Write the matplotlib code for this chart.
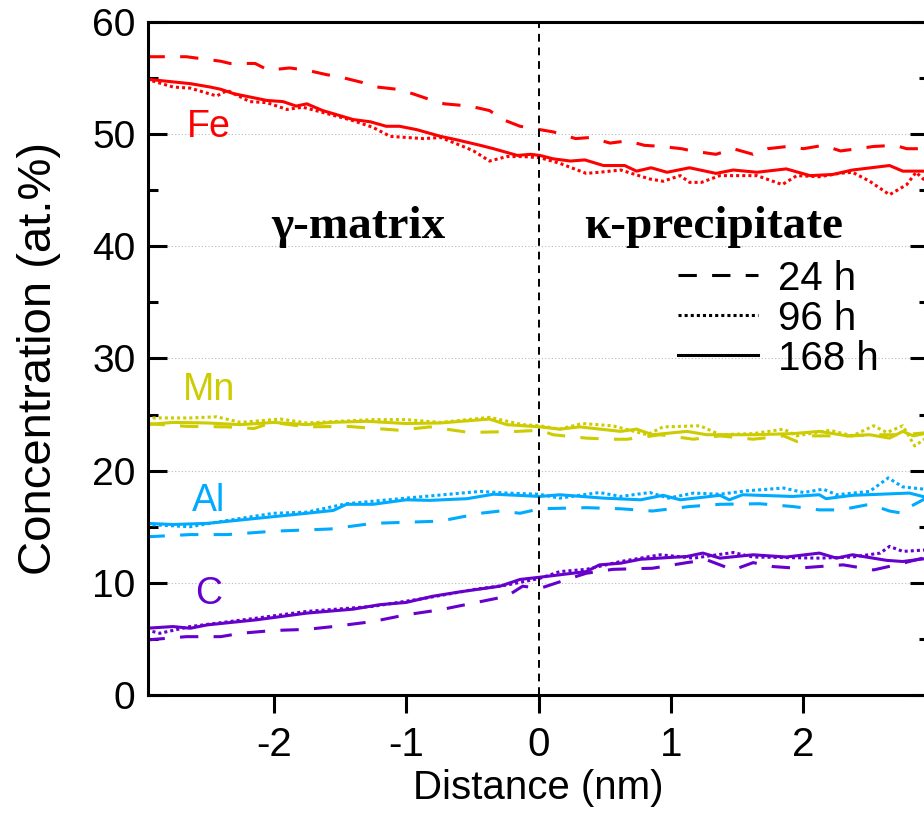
import numpy as np
import matplotlib
matplotlib.use('Agg')
import matplotlib.pyplot as plt
from matplotlib.ticker import MultipleLocator

plt.rcParams['font.family'] = ['Liberation Sans', 'DejaVu Sans']
plt.rcParams['axes.unicode_minus'] = False

# --- Fe ---
fe_24_x = [-2.96, -2.66, -2.40, -2.33, -2.14, -2.04, -1.88, -1.75, -1.60, -1.50, -1.33, -1.22, -1.07, -0.95,
           -0.80, -0.71, -0.52, -0.37, -0.27, -0.14, 0.01, 0.11, 0.28, 0.39, 0.54, 0.67, 0.80, 0.93, 1.08,
           1.16, 1.34, 1.47, 1.62, 1.73, 1.88, 2.00, 2.15, 2.28, 2.41, 2.53, 2.69, 2.78, 2.95]
fe_24_y = [56.9, 56.9, 56.5, 56.3, 56.3, 55.7, 55.9, 55.7, 55.3, 55.1, 54.6, 54.2, 54.0, 53.6,
           53.0, 52.7, 52.5, 52.1, 51.3, 50.7, 50.4, 50.2, 49.6, 49.7, 49.2, 49.4, 49.0, 48.9, 48.7,
           48.5, 48.2, 48.7, 48.2, 48.7, 48.9, 48.7, 49.0, 48.5, 48.7, 48.9, 49.0, 48.7, 48.7]
fe_96_x = [-2.96, -2.76, -2.63, -2.43, -2.35, -2.18, -2.05, -1.90, -1.78, -1.65, -1.40, -1.25, -1.12, -0.87,
           -0.74, -0.59, -0.49, -0.37, -0.24, -0.12, 0.01, 0.16, 0.36, 0.46, 0.62, 0.84, 0.94, 1.07, 1.14,
           1.23, 1.37, 1.65, 1.84, 1.95, 2.12, 2.27, 2.37, 2.50, 2.65, 2.78, 2.85, 2.95]
fe_96_y = [54.9, 54.2, 54.1, 53.4, 53.9, 52.9, 52.8, 52.2, 52.4, 52.0, 51.2, 50.6, 49.8, 49.6,
           49.7, 49.0, 48.5, 47.6, 48.0, 48.0, 47.9, 47.4, 46.5, 46.6, 46.8, 46.0, 45.8, 46.3, 45.7,
           45.7, 46.3, 46.3, 45.5, 46.3, 46.2, 46.5, 46.6, 45.8, 44.6, 45.5, 46.6, 45.5]
fe_168_x = [-2.96, -2.63, -2.48, -2.40, -2.30, -2.05, -1.93, -1.83, -1.75, -1.63, -1.40, -1.27, -1.15, -1.05,
            -0.92, -0.74, -0.62, -0.44, -0.34, -0.16, -0.06, 0.01, 0.11, 0.24, 0.35, 0.49, 0.65, 0.74, 0.85,
            0.97, 1.14, 1.34, 1.47, 1.65, 1.87, 2.05, 2.22, 2.37, 2.65, 2.75, 2.95]
fe_168_y = [54.9, 54.5, 54.2, 54.0, 53.6, 53.0, 52.9, 52.5, 52.7, 52.1, 51.3, 51.1, 50.7, 50.7,
            50.4, 49.8, 49.5, 49.0, 48.7, 48.1, 48.2, 48.1, 47.8, 47.6, 47.7, 47.2, 47.2, 46.7, 47.0,
            46.6, 47.0, 46.5, 46.8, 46.6, 46.9, 46.3, 46.4, 46.8, 47.2, 46.7, 46.7]

# --- Mn ---
mn_24_x = [-2.96, -2.66, -2.35, -2.15, -2.01, -1.75, -1.45, -1.05, -0.82, -0.52, -0.16, 0.01, 0.11, 0.36,
           0.54, 0.67, 0.92, 1.17, 1.37, 1.62, 1.85, 1.95, 2.05, 2.35, 2.58, 2.75, 2.95]
mn_24_y = [24.2, 23.95, 23.9, 23.75, 24.3, 23.9, 23.95, 23.6, 23.9, 23.4, 23.5, 23.6, 23.2, 22.9,
           22.8, 22.8, 23.2, 22.8, 23.1, 22.8, 23.1, 22.6, 23.1, 23.1, 23.2, 23.2, 23.4]
mn_96_x = [-2.96, -2.63, -2.43, -2.25, -1.95, -1.75, -1.25, -1.0, -0.74, -0.37, -0.12, 0.01, 0.16, 0.33,
           0.56, 0.82, 0.94, 1.22, 1.37, 1.62, 1.85, 1.95, 2.20, 2.37, 2.53, 2.63, 2.75, 2.84, 2.95]
mn_96_y = [24.7, 24.7, 24.8, 24.3, 24.6, 24.25, 24.55, 24.55, 24.3, 24.75, 24.1, 24.0, 23.7, 24.2,
           24.0, 23.2, 23.9, 24.0, 23.2, 23.3, 23.7, 23.1, 23.6, 23.1, 24.0, 23.4, 24.0, 22.2, 23.1]
mn_168_x = [-2.96, -2.76, -2.50, -2.25, -2.0, -1.75, -1.57, -1.30, -1.0, -0.74, -0.37, -0.24, 0.01, 0.16,
            0.31, 0.62, 0.74, 0.86, 1.12, 1.27, 1.62, 1.92, 2.12, 2.33, 2.50, 2.65, 2.75, 2.83, 2.95]
mn_168_y = [24.1, 24.3, 24.25, 24.1, 24.3, 24.1, 24.3, 24.4, 24.2, 24.25, 24.6, 24.1, 23.9, 23.7,
            23.9, 23.5, 23.7, 23.2, 23.5, 23.2, 23.2, 23.3, 23.5, 23.1, 23.2, 22.9, 23.5, 23.1, 23.4]

# --- Al ---
al_24_x = [-2.96, -2.63, -2.35, -2.0, -1.57, -1.25, -0.74, -0.44, -0.29, -0.14, 0.01, 0.36, 0.62, 0.86,
           1.14, 1.37, 1.67, 1.92, 2.12, 2.28, 2.50, 2.65, 2.75, 2.80, 2.95]
al_24_y = [14.1, 14.3, 14.3, 14.6, 14.8, 15.3, 15.5, 16.2, 16.4, 16.2, 16.6, 16.7, 16.6, 16.4,
           16.8, 17.0, 17.05, 16.8, 16.5, 16.5, 17.0, 16.4, 16.2, 16.75, 17.7]
al_96_x = [-2.96, -2.63, -2.38, -2.0, -1.75, -1.45, -1.0, -0.44, -0.24, 0.0, 0.16, 0.46, 0.62, 0.84,
           0.98, 1.17, 1.37, 1.57, 1.85, 2.0, 2.15, 2.25, 2.50, 2.64, 2.75, 2.95]
al_96_y = [15.2, 15.0, 15.5, 16.2, 16.3, 17.05, 17.55, 18.15, 18.0, 17.9, 17.55, 18.05, 17.7, 18.05,
           17.55, 18.0, 17.9, 18.2, 18.45, 18.05, 18.35, 17.85, 18.15, 19.35, 18.55, 18.3]
al_168_x = [-2.96, -2.76, -2.50, -2.25, -2.0, -1.75, -1.55, -1.45, -1.25, -1.0, -0.82, -0.54, -0.34, -0.16,
            0.01, 0.16, 0.49, 0.77, 0.94, 1.07, 1.37, 1.44, 1.54, 1.92, 2.12, 2.17, 2.37, 2.80, 2.95]
al_168_y = [15.3, 15.2, 15.3, 15.6, 15.9, 16.2, 16.45, 17.0, 17.0, 17.4, 17.35, 17.5, 17.9, 17.8,
            17.7, 17.85, 17.55, 17.4, 17.8, 17.4, 17.8, 17.4, 17.85, 17.7, 17.85, 17.5, 17.8, 18.0, 17.55]

# --- C ---
c_24_x = [-2.96, -2.66, -2.40, -2.25, -2.0, -1.75, -1.55, -1.25, -1.0, -0.74, -0.49, -0.24, -0.12, 0.01,
          0.24, 0.36, 0.56, 0.86, 1.12, 1.27, 1.47, 1.62, 1.77, 1.95, 2.12, 2.30, 2.53, 2.70, 2.95]
c_24_y = [4.9, 5.2, 5.2, 5.5, 5.75, 5.85, 6.1, 6.55, 7.15, 7.6, 8.2, 8.8, 9.7, 9.5,
          10.4, 10.85, 11.2, 11.3, 11.8, 12.05, 11.15, 11.8, 11.45, 11.3, 11.45, 11.6, 11.15, 11.6, 12.35]
c_96_x = [-2.96, -2.86, -2.63, -2.13, -1.75, -1.25, -0.87, -0.49, -0.24, 0.01, 0.16, 0.36, 0.62, 0.92,
          1.17, 1.47, 1.62, 2.12, 2.37, 2.58, 2.65, 2.75, 2.95]
c_96_y = [5.8, 5.5, 6.1, 6.85, 7.45, 7.9, 8.6, 9.4, 9.8, 10.4, 11.0, 11.2, 11.9, 12.5,
          12.2, 12.7, 12.3, 12.2, 12.3, 12.65, 13.25, 12.8, 12.95]
c_168_x = [-2.96, -2.76, -2.63, -2.50, -2.13, -1.75, -1.40, -1.20, -1.0, -0.80, -0.59, -0.29, -0.14, 0.01,
           0.36, 0.46, 0.62, 0.77, 1.12, 1.24, 1.37, 1.62, 1.87, 2.12, 2.25, 2.37, 2.63, 2.75, 2.95]
c_168_y = [5.95, 6.1, 5.95, 6.25, 6.7, 7.3, 7.65, 8.05, 8.25, 8.8, 9.2, 9.7, 10.3, 10.5,
           11.0, 11.6, 11.75, 12.1, 12.35, 12.65, 12.2, 12.5, 12.3, 12.65, 12.2, 12.5, 12.0, 11.9, 12.2]

elements = ['Fe', 'Mn', 'Al', 'C']
colors = {'Fe': '#FF0000', 'Mn': '#CCCC00', 'Al': '#00AAFF', 'C': '#6600CC'}
label_pos = {'Fe': (-2.49, 50.6), 'Mn': (-2.49, 27.2), 'Al': (-2.49, 17.3), 'C': (-2.49, 9.0)}
times = ['24 h', '96 h', '168 h']
series = {
    'Fe': [(fe_24_x, fe_24_y), (fe_96_x, fe_96_y), (fe_168_x, fe_168_y)],
    'Mn': [(mn_24_x, mn_24_y), (mn_96_x, mn_96_y), (mn_168_x, mn_168_y)],
    'Al': [(al_24_x, al_24_y), (al_96_x, al_96_y), (al_168_x, al_168_y)],
    'C': [(c_24_x, c_24_y), (c_96_x, c_96_y), (c_168_x, c_168_y)],
}
styles = [(0, (6, 5)), (0, (1, 1)), '-']

fig = plt.figure(figsize=(9.24, 8.16), dpi=100)
ax = fig.add_axes([0.160, 0.1483, 0.8457, 0.8248])

ax.yaxis.grid(True, which='major', linestyle=(0, (1, 2)), color='#b8b8b8', lw=0.8)
ax.set_axisbelow(True)

for el in elements:
    for (xs, ys), ls in zip(series[el], styles):
        ax.plot(xs, ys, color=colors[el], lw=2.2, linestyle=ls, dash_capstyle='butt')
    ax.text(*label_pos[el], el, color=colors[el], fontsize=27, ha='center', va='center')

ax.axvline(0, color='black', lw=1.4, linestyle=(0, (4, 3)))

# phase labels
ax.text(-1.36, 41.7, 'γ-matrix', fontsize=34, fontweight='bold', family='Liberation Serif',
        ha='center', va='center')
ax.text(1.32, 41.7, 'κ-precipitate', fontsize=34, fontweight='bold', family='Liberation Serif',
        ha='center', va='center')

# legend: black proxy lines
handles = [ax.plot([], [], color='black', lw=2.2, linestyle=ls)[0] for ls in styles]
ax.legend(handles, times, loc='upper left', bbox_to_anchor=(0.678, 0.647), frameon=False,
          fontsize=29, handlelength=2.0, handletextpad=0.5, labelspacing=0.05,
          borderpad=0, borderaxespad=0)

ax.set_xlim(-2.95, 2.95)
ax.set_ylim(0, 60)
ax.set_xticks([-2, -1, 0, 1, 2])
ax.yaxis.set_major_locator(MultipleLocator(10))
ax.yaxis.set_minor_locator(MultipleLocator(5))

for s in ax.spines.values():
    s.set_linewidth(2.2)
ax.tick_params(axis='x', which='both', direction='out', length=13, width=2.2,
               labelsize=29, pad=9, top=False)
ax.tick_params(axis='y', which='major', direction='in', length=14, width=2.2,
               labelsize=28, pad=9, left=True, right=True)
ax.tick_params(axis='y', which='minor', direction='in', length=7, width=2.2,
               left=True, right=True)
ax.tick_params(axis='x', which='minor', bottom=False, top=False)

ax.set_xlabel('Distance (nm)', fontsize=29, labelpad=4)
ax.set_ylabel('Concentration (at.%)', fontsize=34, labelpad=22)

fig.savefig('out.png', dpi=100)
